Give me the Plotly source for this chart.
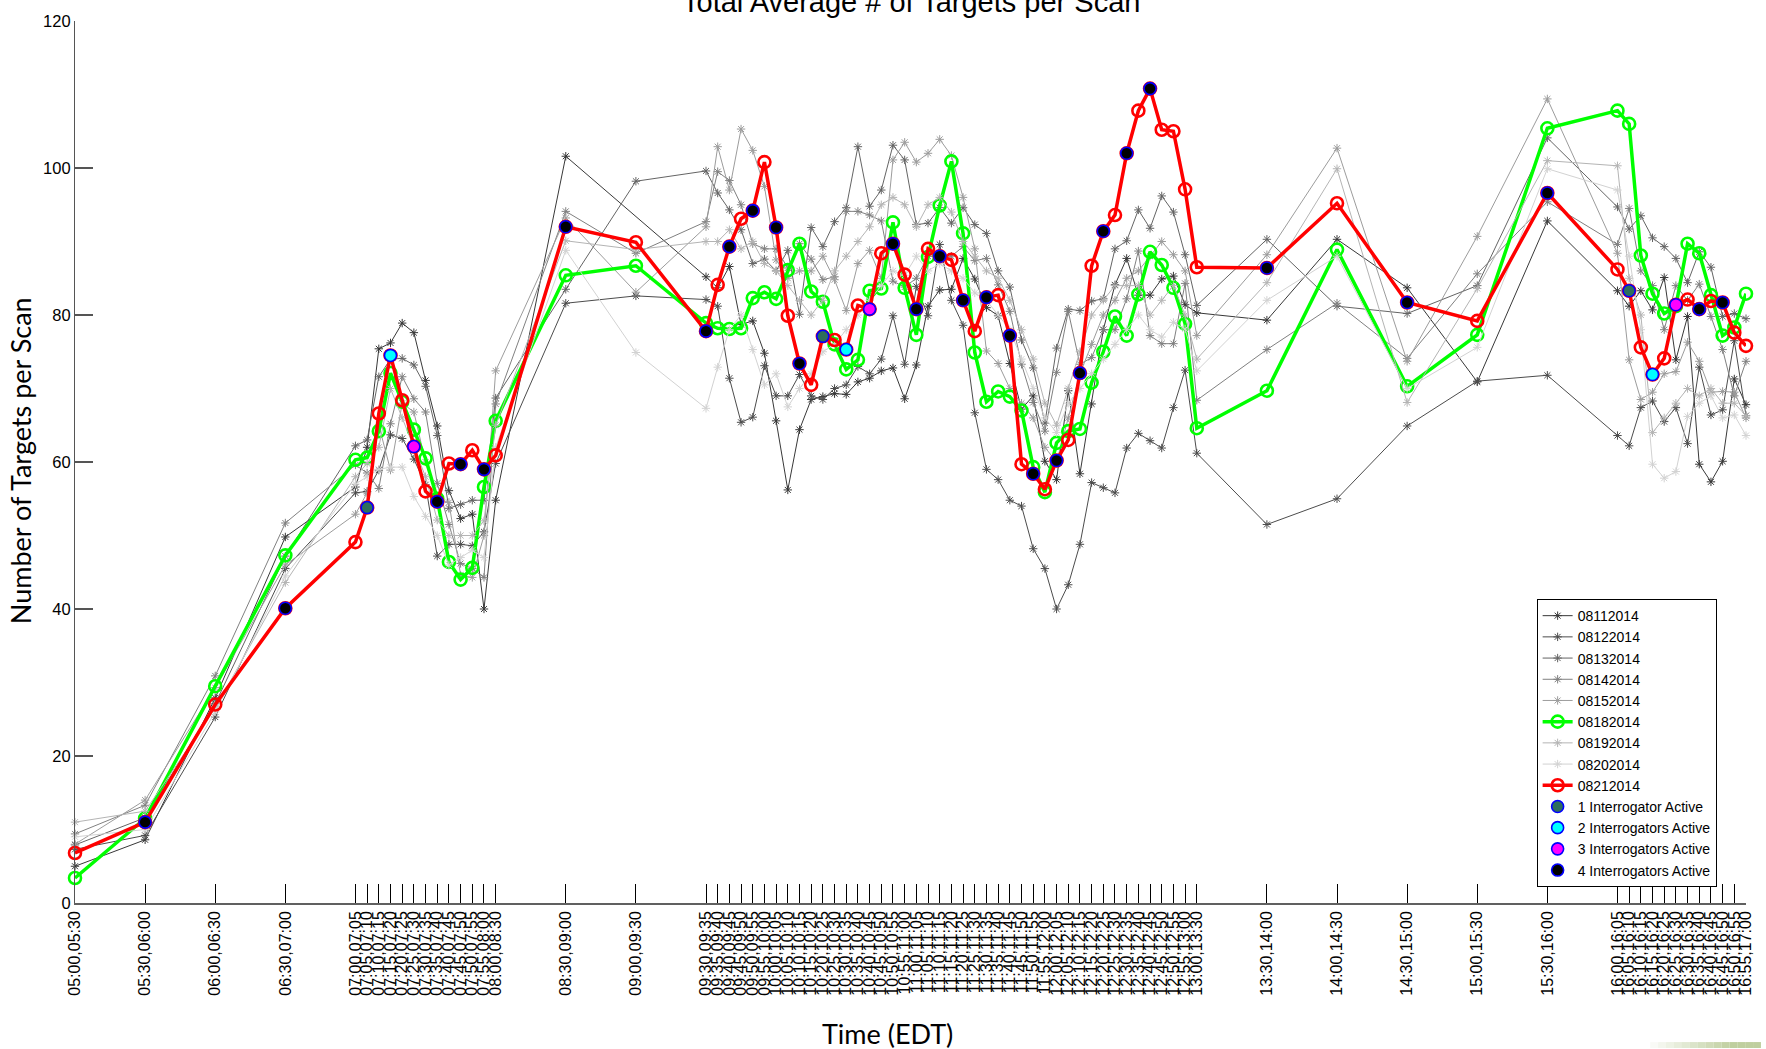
import plotly.graph_objects as go

# ---- time bins (start of each averaging window) ----
bin_start = [
    "05:00", "05:30", "06:00", "06:30",
    "07:00", "07:05", "07:10", "07:15", "07:20", "07:25", "07:30", "07:35",
    "07:40", "07:45", "07:50", "07:55", "08:00",
    "08:30", "09:00",
    "09:30", "09:35", "09:40", "09:45", "09:50", "09:55", "10:00", "10:05",
    "10:10", "10:15", "10:20", "10:25", "10:30", "10:35", "10:40", "10:45",
    "10:50", "10:55", "11:00", "11:05", "11:10", "11:15", "11:20", "11:25",
    "11:30", "11:35", "11:40", "11:45", "11:50", "11:55", "12:00", "12:05",
    "12:10", "12:15", "12:20", "12:25", "12:30", "12:35", "12:40", "12:45",
    "12:50", "12:55", "13:00",
    "13:30", "14:00", "14:30", "15:00", "15:30",
    "16:00", "16:05", "16:10", "16:15", "16:20", "16:25", "16:30", "16:35",
    "16:40", "16:45", "16:50", "16:55",
]
bin_end = bin_start[1:] + ["17:00"]
tick_labels = [f"{s},{e}" for s, e in zip(bin_start, bin_end)]

# ---- average number of targets per scan, one list per day ----
d08112014 = [5.0, 8.6, 27.9, 49.8,
             56.6, 62.0, 75.4, 76.2, 78.9, 77.6, 71.1, 64.9, 56.1, 52.3, 52.9, 40.0, 54.8,
             101.6, None,
             85.2, 83.7, 86.6, 78.7, 79.2, 74.8, 65.6, 56.2, 64.4, 68.5, 68.9, 69.3, 69.2, 70.9,
             71.4, 72.4, 72.8, 68.6, 73.2, 81.2, 83.4, 83.5, 87.7, 84.9, 81.0, 79.9, 73.4, 67.2,
             69.0, 60.1, 57.6, 69.7, 58.4, 67.9, 78.0, 84.1, 87.7, 82.7, 82.7, 84.9, 85.3, 81.4, 80.3,
             79.3, 90.3, 83.7, 70.9, 92.8,
             83.3, 81.2, 83.3, 80.7, 85.1, 73.9, 79.8, 59.7, 57.3, 60.1, 71.3, 67.8]
d08122014 = [7.3, 9.2, 25.3, 45.5,
             55.8, 56.0, 58.9, 63.7, 63.2, 60.4, 56.9, 47.2, 48.8, 48.8, 48.6, 50.5, 59.8,
             81.6, 82.6,
             82.1, 81.2, 71.4, 65.4, 66.1, 73.1, 69.0, 69.0, 71.9, 69.0, 68.5, 70.0, 70.5, 73.0,
             72.0, 74.0, 79.9, 73.3, 83.9, 79.9, 89.6, 82.0, 78.6, 66.7, 59.0, 57.6, 54.8, 54.0,
             48.2, 45.5, 40.0, 43.3, 48.8, 57.2, 56.5, 55.8, 61.9, 63.9, 62.9, 61.9, 67.4, 72.5, 61.2,
             51.5, 55.0, 64.9, 71.0, 71.8,
             63.6, 62.2, 67.4, 68.3, 65.5, 67.4, 62.5, 72.9, 66.4, 67.1, 76.5, 66.3]
d08132014 = [7.9, 11.6, 27.1, 47.2,
             62.2, 63.0, 71.6, 74.0, 74.1, 73.2, 70.3, 63.6, 53.7, 54.2, 54.8, 54.8, 68.7,
             83.5, 98.2,
             99.6, 96.6, 94.3, 91.6, 87.0, 87.6, 86.0, 88.8, 80.1, 91.9, 89.3, 92.7, 94.6, 102.9,
             94.8, 97.0, 103.1, 101.1, 92.3, 92.5, 94.6, 92.5, 94.6, 92.3, 91.1, 86.0, 83.8, 76.6,
             72.8, 65.3, 75.5, 80.8, 80.6, 81.9, 82.2, 89.0, 90.1, 94.3, 91.8, 96.2, 94.0, 88.2, 81.3,
             90.3, 81.2, 80.2, 84.0, 104.1,
             94.7, 91.7, 93.5, 90.5, 89.3, 87.7, 84.4, 88.6, 86.5, 79.8, 80.2, 79.5]
d08142014 = [9.4, 13.3, 30.9, 51.7,
             59.6, 58.5, 56.4, 65.2, 71.6, 68.6, 66.8, 57.1, 51.5, 46.2, 45.5, 44.3, 67.9,
             94.1, 88.4,
             92.7, 99.5, 98.3, 95.0, 89.7, 89.0, 89.0, 86.4, 89.7, 87.6, 84.8, 85.2, 94.1, 94.1,
             93.6, 92.8, 84.6, 83.8, 85.0, 88.0, 88.0, 88.0, 89.3, 87.4, 87.7, 84.1, 80.5, 73.3,
             68.1, 64.2, 72.2, 80.5, 73.3, 74.2, 78.0, 78.0, 82.2, 88.7, 77.2, 76.1, 76.1, 84.3, 68.4,
             75.3, 81.6, 74.1, 85.6, 95.4,
             89.6, 94.5, 86.0, 84.0, 78.0, 84.0, 82.0, 84.2, 79.8, 75.3, 69.0, 73.7]
d08152014 = [8.0, 14.0, 29.3, 46.0,
             52.9, 55.8, 65.0, 58.9, 68.0, 66.8, 60.0, 55.0, 54.5, 44.6, 44.3, 50.0, 72.4,
             93.2, 83.1,
             92.0, 102.9, 97.0, 105.3, 102.4, 97.5, 87.5, 85.0, 86.0, 86.0, 88.0, 84.8, 80.6, 87.0,
             88.8, 85.0, 101.1, 103.5, 100.8, 102.0, 103.9, 101.7, 96.0, 89.0, 75.1, 73.4, 70.0, 68.0,
             66.0, 62.0, 60.0, 66.0, 72.0, 76.0, 80.0, 82.0, 85.0, 86.0, 88.0, 90.0, 88.2, 86.0, 77.2,
             88.2, 102.7, 73.7, 90.7, 109.4,
             88.4, 73.9, 68.5, 69.5, 72.0, 72.3, 76.3, 73.7, 69.5, 69.6, 69.5, 66.0]
d08182014 = [3.4, 11.5, 29.5, 47.3,
             60.3, 60.6, 64.2, 72.1, 68.2, 64.4, 60.5, 55.0, 46.4, 44.0, 45.6, 56.6, 65.6,
             85.4, 86.7,
             78.9, 78.2, 78.1, 78.2, 82.3, 83.1, 82.2, 86.1, 89.7, 83.2, 81.8, 76.0, 72.6, 73.9,
             83.3, 83.6, 92.6, 83.7, 77.3, 87.9, 94.9, 100.9, 91.1, 74.9, 68.2, 69.6, 68.9, 67.0,
             59.3, 55.9, 62.6, 64.2, 64.5, 70.8, 75.0, 79.8, 77.2, 82.8, 88.6, 86.8, 83.7, 78.8, 64.6,
             69.7, 88.9, 70.3, 77.3, 105.4,
             107.8, 106.0, 88.1, 82.9, 80.2, 81.2, 89.7, 88.4, 82.7, 77.2, 78.3, 82.9]
d08192014 = [11.0, 12.5, 26.5, 43.6,
             58.0, 59.8, 62.0, 70.0, 66.0, 62.0, 58.0, 52.1, 50.0, 50.0, 50.0, 52.0, 65.0,
             90.1, 88.9,
             90.0, 90.0, 91.6, 89.0, 90.0, 87.0, 86.0, 84.0, 82.0, 80.0, 82.0, 86.0, 88.0, 90.0,
             92.0, 95.0, 96.0, 95.0, 92.0, 95.0, 96.0, 94.0, 90.0, 88.0, 86.0, 85.0, 82.0, 78.0,
             74.0, 68.0, 65.0, 70.0, 75.0, 80.0, 82.0, 84.0, 84.0, 84.0, 80.0, 82.0, 84.0, 80.0, 74.0,
             84.4, 99.9, 68.1, 83.6, 101.0,
             100.3, 85.0, 80.0, 64.0, 66.0, 68.0, 70.0, 69.0, 70.0, 68.0, 68.0, 66.3]
d08202014 = [9.0, 10.0, 26.0, 44.5,
             57.0, 58.0, 59.0, 59.3, 59.3, 55.3, 52.6, 50.0, 46.0, 47.0, 48.0, 47.0, 62.0,
             88.8, 74.9,
             67.3, 72.9, 78.0, 80.0, 75.3, 70.5, 72.0, 67.5, 70.0, 72.0, 75.0, 76.0, 78.0, 80.0,
             82.0, 84.0, 86.0, 85.4, 88.0, 86.0, 87.0, 86.0, 85.0, 83.0, 82.0, 80.0, 78.0, 74.0,
             70.0, 66.0, 64.0, 68.0, 70.0, 72.0, 74.0, 76.0, 78.0, 80.0, 78.0, 77.0, 79.0, 78.1, 72.4,
             82.0, 88.0, 70.0, 75.6, 99.9,
             97.0, 88.0, 78.0, 59.7, 57.8, 58.7, 66.2, 68.0, 69.0, 66.0, 66.4, 63.6]
d08212014 = [6.8, 11.0, 27.0, 40.1,
             49.1, 53.8, 66.6, 74.5, 68.4, 62.1, 56.0, 54.6, 59.8, 59.7, 61.6, 59.0, 60.9,
             92.0, 89.9,
             77.8, 84.1, 89.3, 93.1, 94.2, 100.8, 91.9, 79.9, 73.4, 70.5, 77.1, 76.6, 75.3, 81.3,
             80.8, 88.4, 89.7, 85.5, 80.8, 89.0, 88.0, 87.5, 82.0, 77.8, 82.4, 82.7, 77.2, 59.7,
             58.4, 56.3, 60.2, 63.0, 72.1, 86.7, 91.4, 93.6, 102.0, 107.8, 110.8, 105.2, 105.0, 97.1, 86.5,
             86.4, 95.2, 81.7, 79.2, 96.6,
             86.2, 83.3, 75.6, 71.9, 74.1, 81.4, 82.1, 80.8, 81.9, 81.7, 77.6, 75.8]

# number of interrogators active during the 08212014 windows (0 = not marked)
interrogators_0821 = [0, 4, 0, 4,
                      0, 1, 0, 2, 0, 3, 0, 4, 0, 4, 0, 4, 0,
                      4, 0,
                      4, 0, 4, 0, 4, 0, 4, 0, 4, 0, 1, 0, 2, 0,
                      3, 0, 4, 0, 4, 0, 4, 0, 4, 0, 4, 0, 4, 0,
                      4, 0, 4, 0, 4, 0, 4, 0, 4, 0, 4, 0, 0, 0, 0,
                      4, 0, 4, 0, 4,
                      0, 1, 0, 2, 0, 3, 0, 4, 0, 4, 0, 0]

y_ticks = [0, 20, 40, 60, 80, 100, 120]

for _series in (d08112014, d08122014, d08132014, d08142014, d08152014, d08182014,
                d08192014, d08202014, d08212014, interrogators_0821):
    if len(_series) != len(bin_start):
        raise ValueError("series length does not match the time bins")

# minutes since 05:00 for each bin start
x_min = [int(t[:2]) * 60 + int(t[3:]) - 300 for t in bin_start]

FONT = "Liberation Sans, Arial, sans-serif"
LABEL_FONT = "Lato, Noto Sans, sans-serif"

fig = go.Figure()


def grey_trace(name, values, color):
    return go.Scatter(
        x=x_min, y=values, name=name, mode="lines+markers",
        connectgaps=True, cliponaxis=False,
        line=dict(color=color, width=1),
        marker=dict(symbol="asterisk-open", size=7, color=color, line=dict(width=1, color=color)),
    )


def bold_trace(name, values, color):
    return go.Scatter(
        x=x_min, y=values, name=name, mode="lines+markers", cliponaxis=False,
        line=dict(color=color, width=3.5),
        marker=dict(symbol="circle-open", size=12, color=color, line=dict(width=2.6, color=color)),
    )


fig.add_trace(grey_trace("08112014", d08112014, "#383838"))
fig.add_trace(grey_trace("08122014", d08122014, "#4c4c4c"))
fig.add_trace(grey_trace("08132014", d08132014, "#646464"))
fig.add_trace(grey_trace("08142014", d08142014, "#808080"))
fig.add_trace(grey_trace("08152014", d08152014, "#9c9c9c"))
fig.add_trace(bold_trace("08182014", d08182014, "#00ff00"))
fig.add_trace(grey_trace("08192014", d08192014, "#b4b4b4"))
fig.add_trace(grey_trace("08202014", d08202014, "#d2d2d2"))
fig.add_trace(bold_trace("08212014", d08212014, "#ff0000"))

state_styles = [
    (1, "1 Interrogator Active", "#2e6e5c"),
    (2, "2 Interrogators Active", "#00ffff"),
    (3, "3 Interrogators Active", "#ff00ff"),
    (4, "4 Interrogators Active", "#000000"),
]
for level, label, fill in state_styles:
    xs = [x for x, n in zip(x_min, interrogators_0821) if n == level]
    ys = [y for y, n in zip(d08212014, interrogators_0821) if n == level]
    fig.add_trace(go.Scatter(
        x=xs, y=ys, name=label, mode="markers", cliponaxis=False,
        marker=dict(symbol="circle", size=12, color=fill, line=dict(color="#0000ff", width=1.6)),
    ))

# faint strip in the lower-right corner
strip = []
n_seg = 14
x_left, x_right = 1655, 1766
for i in range(n_seg):
    a = x_left + (x_right - x_left) * i / n_seg
    b = x_left + (x_right - x_left) * (i + 1) / n_seg
    strip.append(dict(
        type="rect", xref="paper", yref="paper", layer="above",
        x0=(a - 75) / 1676, x1=(b - 75) / 1676,
        y0=(903 - 1049) / 888, y1=(903 - 1043) / 888,
        line=dict(width=0), fillcolor="#bfcf9f", opacity=min(1.0, (i + 1) / n_seg * 1.3),
    ))

fig.update_layout(
    width=1766, height=1049,
    margin=dict(l=75, r=15, t=15, b=146),
    paper_bgcolor="white", plot_bgcolor="white",
    font=dict(family=FONT, color="black"),
    showlegend=True,
    legend=dict(
        x=(1541 - 75) / 1676, y=(903 - 597) / 888, xanchor="left", yanchor="top",
        bgcolor="white", bordercolor="black", borderwidth=1,
        font=dict(family=FONT, size=14, color="black"),
        tracegroupgap=0, itemwidth=30,
    ),
    xaxis=dict(
        range=[0, 715], tickmode="array", tickvals=x_min, ticktext=tick_labels,
        tickangle=-90, ticks="inside", ticklen=19, tickwidth=1, tickcolor="black",
        showline=True, linecolor="#606060", linewidth=1.5,
        showgrid=False, zeroline=False,
        tickfont=dict(family=FONT, size=16, color="black"),
    ),
    yaxis=dict(
        range=[0, 120], tickmode="array", tickvals=y_ticks,
        ticks="inside", ticklen=18, tickwidth=1.5, tickcolor="#555555",
        showline=True, linecolor="#555555", linewidth=1.2,
        showgrid=False, zeroline=False,
        tickfont=dict(family=FONT, size=16.5, color="black"),
    ),
    shapes=strip,
    annotations=[
        dict(text="Total Average # of Targets per Scan", xref="paper", yref="paper",
             x=0.5, y=(903 + 4) / 888, xanchor="center", yanchor="middle",
             showarrow=False, font=dict(family=FONT, size=29, color="black")),
        dict(text="Time (EDT)", xref="paper", yref="paper",
             x=(890 - 75) / 1676, y=(903 - 1034) / 888, xanchor="center", yanchor="middle",
             showarrow=False, font=dict(family=LABEL_FONT, size=27, color="black")),
        dict(text="Number of Targets per Scan", xref="paper", yref="paper",
             x=(20 - 75) / 1676, y=(903 - 458) / 888, xanchor="center", yanchor="middle",
             textangle=-90, showarrow=False, font=dict(family=LABEL_FONT, size=27, color="black")),
    ],
)

fig.write_html("out.html")
